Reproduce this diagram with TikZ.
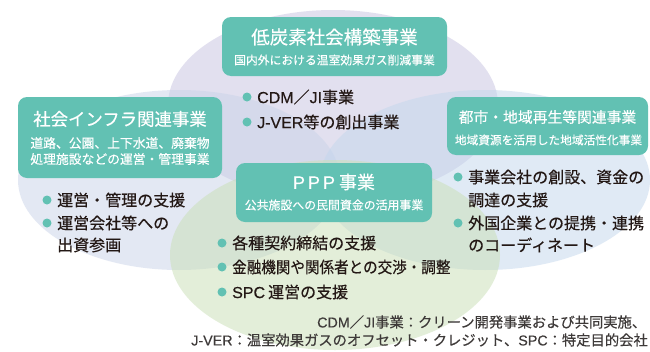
\documentclass[tikz,border=0pt]{standalone}
\usepackage{fontspec}
\setmainfont[FakeBold=0.35]{Noto Sans CJK JP}
\newfontfamily\lat[FakeBold=0.35]{Liberation Sans}
\definecolor{teal1}{RGB}{98,193,179}
\definecolor{txt}{RGB}{35,24,21}
\definecolor{foot}{RGB}{62,58,57}
\definecolor{ellA}{RGB}{199,195,225}
\definecolor{ellB}{RGB}{201,211,233}
\definecolor{ellC}{RGB}{195,215,237}
\definecolor{ellD}{RGB}{201,223,181}
\begin{document}
\begin{tikzpicture}[x=1pt,y=-1pt,
  ell/.style={fill opacity=0.5, draw=none},
  boxstyle/.style={fill=teal1, rounded corners=9pt, draw=none, inner sep=0pt, outer sep=0pt},
  ttl/.style={text=white, inner sep=0pt},
  sub/.style={text=white, inner sep=0pt},
  item/.style={anchor=west, text=txt, font=\fontsize{16}{18}\selectfont, inner sep=0pt},
  dot/.style={circle, fill=teal1, minimum size=9pt, inner sep=0pt},
  foottext/.style={text=foot, font=\fontsize{14.3}{16}\selectfont, inner sep=0pt}]
\fill[white] (0,0) rectangle (650,351);
\useasboundingbox (0,0) rectangle (650,351);
% ellipses
\fill[ell, ellA] (333,105) ellipse [x radius=165, y radius=95];
\fill[ell, ellB] (179,180) ellipse [x radius=161, y radius=90];
\fill[ell, ellC] (485,180) ellipse [x radius=165, y radius=90];
\fill[ell, ellD] (335,255) ellipse [x radius=165, y radius=95];
% boxes
\node[boxstyle, minimum width=225pt, minimum height=59pt] (topbox) at (334.5,46.5) {};
\node[boxstyle, minimum width=204pt, minimum height=81pt] (leftbox) at (120,137.5) {};
\node[boxstyle, minimum width=201pt, minimum height=58pt] (rightbox) at (547.5,126) {};
\node[boxstyle, minimum width=196pt, minimum height=59pt] (pppbox) at (334,192.5) {};
% titles
\node[ttl, font=\fontsize{18.5}{20}\selectfont] (toptitle) at (334.5,37) {低炭素社会構築事業};
\node[sub, font=\fontsize{11.8}{14}\selectfont] (topsub) at (334.5,60) {国内外における温室効果ガス削減事業};
\node[ttl, font=\fontsize{17.4}{20}\selectfont] (lefttitle) at (120,119) {社会インフラ関連事業};
\node[sub, font=\fontsize{12.8}{14}\selectfont] (leftsubA) at (120,143) {道路、公園、上下水道、廃棄物};
\node[sub, font=\fontsize{12.8}{14}\selectfont] (leftsubB) at (120,159) {処理施設などの運営・管理事業};
\node[ttl, font=\fontsize{14.8}{20}\selectfont] (righttitle) at (547.5,117) {都市・地域再生等関連事業};
\node[sub, font=\fontsize{11.7}{14}\selectfont] (rightsub) at (548.5,140) {地域資源を活用した地域活性化事業};
\node[ttl, font=\fontsize{18}{20}\selectfont] (ppptitle) at (334,182) {{\lat P\hspace{3pt}P\hspace{3pt}P}\hspace{4pt}事業};
\node[sub, font=\fontsize{11.9}{14}\selectfont] (pppsub) at (334,205) {公共施設への民間資金の活用事業};
% top bullets
\node[dot] (tdA) at (247,97) {};
\node[item] (tA) at (257,97) {{\lat CDM}／{\lat JI}事業};
\node[dot] (tdB) at (247,122) {};
\node[item] (tB) at (257,122) {{\lat J-VER}等の創出事業};
% left bullets
\node[dot] (ldA) at (47,200) {};
\node[item] (lA) at (57,200) {運営・管理の支援};
\node[dot] (ldB) at (47,223) {};
\node[item] (lB) at (57,223) {運営会社等への};
\node[item] (lC) at (57,245) {出資参画};
% right bullets
\node[dot] (rdA) at (458,177) {};
\node[item] (rA) at (468,177) {事業会社の創設、資金の};
\node[item] (rB) at (468,200) {調達の支援};
\node[dot] (rdB) at (458,223) {};
\node[item] (rC) at (468,223) {外国企業との提携・連携};
\node[item] (rD) at (468,245) {のコーディネート};
% ppp bullets
\node[dot] (pdA) at (222,243) {};
\node[item] (pA) at (232,243) {各種契約締結の支援};
\node[dot] (pdB) at (222,267) {};
\node[item] (pB) at (232,267) {\scalebox{0.91}[1]{金融機関や関係者との交渉・調整}};
\node[dot] (pdC) at (222,292) {};
\node[item] (pC) at (232,292) {{\lat SPC}\hspace{3pt}運営の支援};
% footer
\node[foottext, anchor=west] (footA) at (317,322) {{\lat CDM}／{\lat JI}事業：クリーン開発事業および共同実施、};
\node[foottext, anchor=east] (footB) at (648,340) {{\lat J-VER}：温室効果ガスのオフセット・クレジット、{\lat SPC}：特定目的会社};
\end{tikzpicture}
\end{document}
